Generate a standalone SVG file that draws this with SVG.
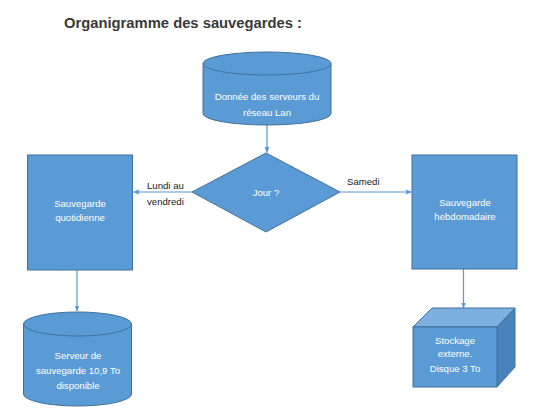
<svg xmlns="http://www.w3.org/2000/svg" width="544" height="419" viewBox="0 0 544 419">
<defs>
<style>
.shape{fill:#5b9bd5;stroke:#41719c;stroke-width:1}
.top{fill:#5b9bd5;stroke:#41719c;stroke-width:1}
.light{fill:#7dafe0;stroke:#41719c;stroke-width:1}
.dark{fill:#4a83bb;stroke:#41719c;stroke-width:1}
.t{font-family:"Liberation Sans",Arial,sans-serif;font-size:9.6px;fill:#ffffff;text-anchor:middle}
.lbl{font-family:"Liberation Sans",Arial,sans-serif;font-size:9.6px;fill:#1a1a1a}
.conn{fill:none;stroke:#5b9bd5;stroke-width:1.2}
.title{font-family:"Liberation Sans",Arial,sans-serif;font-size:14.5px;font-weight:bold;fill:#3a3a3a}
</style>
<marker id="arr" viewBox="0 0 10 10" refX="9" refY="5" markerWidth="6" markerHeight="6" markerUnits="userSpaceOnUse" orient="auto">
<path d="M0,1 L10,5 L0,9 z" fill="#5b9bd5"/>
</marker>
</defs>
<rect width="544" height="419" fill="#ffffff"/>
<text class="title" x="64" y="28" textLength="238" lengthAdjust="spacingAndGlyphs">Organigramme des sauvegardes :</text>

<g id="connectors">
<line class="conn" x1="267" y1="125" x2="267" y2="152.5" marker-end="url(#arr)"/>
<line class="conn" x1="192" y1="192" x2="133.5" y2="192" marker-end="url(#arr)"/>
<line class="conn" x1="340" y1="192" x2="411.5" y2="192" marker-end="url(#arr)"/>
<line class="conn" x1="77" y1="270" x2="77" y2="311" marker-end="url(#arr)"/>
<line class="conn" x1="463.5" y1="269" x2="463.5" y2="308" marker-end="url(#arr)"/>
</g>

<g id="source">
<path class="shape" d="M203,63.5 L203,113.5 A64,11.5 0 0 0 331,113.5 L331,63.5"/>
<ellipse class="top" cx="267" cy="63.5" rx="64" ry="11.5"/>
<text class="t" x="267" y="100">Donnée des serveurs du</text>
<text class="t" x="267" y="116">réseau Lan</text>
</g>

<g id="jour">
<polygon class="shape" points="266,153 340,192 266,232 192,192"/>
<text class="t" x="266" y="195.5">Jour ?</text>
</g>

<g id="labels">
<text class="lbl" x="147" y="188.5">Lundi au</text>
<text class="lbl" x="147" y="205">vendredi</text>
<text class="lbl" x="347" y="185">Samedi</text>
</g>

<g id="quotidienne">
<rect class="shape" x="27.5" y="155" width="105" height="115"/>
<text class="t" x="80" y="206.5">Sauvegarde</text>
<text class="t" x="80" y="221">quotidienne</text>
</g>

<g id="hebdomadaire">
<rect class="shape" x="412" y="155" width="105" height="114"/>
<text class="t" x="465" y="205.5">Sauvegarde</text>
<text class="t" x="465" y="220">hebdomadaire</text>
</g>

<g id="serveur">
<path class="shape" d="M23.5,324 L23.5,394 A54,12 0 0 0 131.5,394 L131.5,324"/>
<ellipse class="top" cx="77.5" cy="324" rx="54" ry="12"/>
<text class="t" x="78" y="358.5">Serveur de</text>
<text class="t" x="78" y="374">sauvegarde 10,9 To</text>
<text class="t" x="78" y="388.5">disponible</text>
</g>

<g id="stockage">
<polygon class="light" points="413,327 432,308 515,308 497,327"/>
<polygon class="dark" points="497,327 515,308 515,367 497,387"/>
<rect class="shape" x="413" y="327" width="84" height="60"/>
<text class="t" x="455" y="343.5">Stockage</text>
<text class="t" x="455" y="357">externe.</text>
<text class="t" x="455" y="371.5">Disque 3 To</text>
</g>
</svg>
